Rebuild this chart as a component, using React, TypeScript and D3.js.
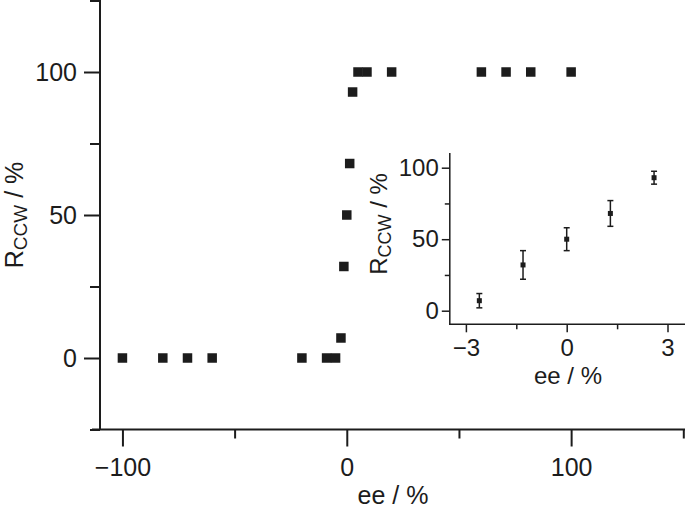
import React, { useRef, useEffect } from 'react';
import * as d3 from 'd3';

// main panel: ee (%) vs R_CCW (%)
const eeMain = [-100, -82, -71, -60, -20, -9, -5, -2.6, -1.3, 0, 1.3, 2.6, 5, 9, 20, 60, 71, 82, 100];
const rMain = [0, 0, 0, 0, 0, 0, 0, 7, 32, 50, 68, 93, 100, 100, 100, 100, 100, 100, 100];

// inset: close-up around racemic point, with error bars
const eeInset = [-2.6, -1.3, 0, 1.3, 2.6];
const rInset = [7, 32, 50, 68, 93];
const errInset = [5, 10, 8, 9, 4.5];

const mainXMajor = [-100, 0, 100];
const mainXMinor = [-50, 50, 150];
const mainYMajor = [0, 50, 100];
const mainYMinor = [-25, 25, 75, 125];
const insetXMajor = [-3, 0, 3];
const insetXMinor = [-1.5, 1.5];
const insetYMajor = [0, 50, 100];
const insetYMinor = [25, 75];

const FONT = '"Liberation Sans", Arial, Helvetica, sans-serif';
const INK = '#1c1c1c';
const fmt = (d: d3.NumberValue) => {
  const v = +d;
  return v < 0 ? `\u2212${Math.abs(v)}` : `${v}`;
};

export default function App() {
  const ref = useRef<SVGSVGElement>(null);

  const x = d3.scaleLinear().domain([-110, 150]).range([100, 683.3]);
  const y = d3.scaleLinear().domain([-25, 125]).range([429.5, 0.5]);
  const xi = d3.scaleLinear().domain([-3.5, 3.5]).range([449.1, 684.3]);
  const yi = d3.scaleLinear().domain([-10, 110]).range([325, 153.4]);

  useEffect(() => {
    if (!ref.current) return;
    const svg = d3.select(ref.current);

    const style = (g: d3.Selection<SVGGElement, unknown, null, undefined>, fs: number, sw: number) => {
      g.select('.domain').remove();
      g.selectAll('line').attr('stroke', INK).attr('stroke-width', sw);
      g.selectAll('text').attr('fill', INK).attr('font-size', fs).attr('font-family', FONT);
    };

    svg.select<SVGGElement>('.mx').call(d3.axisBottom(x).tickValues(mainXMajor).tickSize(17).tickPadding(12).tickFormat(fmt)).call(g => style(g, 25, 2));
    svg.select<SVGGElement>('.mxm').call(d3.axisBottom(x).tickValues(mainXMinor).tickSize(9).tickFormat(() => '')).call(g => style(g, 25, 2));
    svg.select<SVGGElement>('.my').call(d3.axisLeft(y).tickValues(mainYMajor).tickSize(16).tickPadding(7).tickFormat(fmt)).call(g => style(g, 25, 2));
    svg.select<SVGGElement>('.mym').call(d3.axisLeft(y).tickValues(mainYMinor).tickSize(10).tickFormat(() => '')).call(g => style(g, 25, 2));

    svg.select<SVGGElement>('.ix').call(d3.axisBottom(xi).tickValues(insetXMajor).tickSize(8).tickPadding(7).tickFormat(fmt)).call(g => style(g, 24, 1.5));
    svg.select<SVGGElement>('.ixm').call(d3.axisBottom(xi).tickValues(insetXMinor).tickSize(5).tickFormat(() => '')).call(g => style(g, 24, 1.5));
    svg.select<SVGGElement>('.iy').call(d3.axisLeft(yi).tickValues(insetYMajor).tickSize(8).tickPadding(3).tickFormat(fmt)).call(g => style(g, 24, 1.5));
    svg.select<SVGGElement>('.iym').call(d3.axisLeft(yi).tickValues(insetYMinor).tickSize(5).tickFormat(() => '')).call(g => style(g, 24, 1.5));
  }, []);

  const ms = 9.5;
  const mi = 5;

  return (
    <svg ref={ref} width={685} height={511} style={{ position: 'absolute', left: 0, top: 0, background: '#fff' }}>
      {/* main axes */}
      <line x1={100} x2={100} y1={0} y2={429.5} stroke={INK} strokeWidth={2} />
      <line x1={92} x2={685} y1={429.5} y2={429.5} stroke={INK} strokeWidth={2} />
      <g className="mx" transform="translate(0,429.5)" />
      <g className="mxm" transform="translate(0,429.5)" />
      <g className="my" transform="translate(100,0)" />
      <g className="mym" transform="translate(100,0)" />

      {eeMain.map((e, i) => (
        <rect key={i} x={x(e) - ms / 2} y={y(rMain[i]) - ms / 2} width={ms} height={ms} fill={INK} />
      ))}

      <text x={393} y={504} textAnchor="middle" fontSize={25} fontFamily={FONT} fill={INK}>ee / %</text>
      <text transform="translate(23,215) rotate(-90)" textAnchor="middle" fontSize={25} fontFamily={FONT} fill={INK}>
        R<tspan fontSize={19} dy={4}>CCW</tspan><tspan dy={-4}> / %</tspan>
      </text>

      {/* inset */}
      <line x1={449.8} x2={449.8} y1={153} y2={325} stroke={INK} strokeWidth={1.5} />
      <line x1={449} x2={685} y1={324.3} y2={324.3} stroke={INK} strokeWidth={1.5} />
      <g className="ix" transform="translate(0,324.3)" />
      <g className="ixm" transform="translate(0,324.3)" />
      <g className="iy" transform="translate(449.8,0)" />
      <g className="iym" transform="translate(449.8,0)" />

      {eeInset.map((e, i) => {
        const cx = xi(e);
        const y0 = yi(rInset[i] - errInset[i]);
        const y1 = yi(rInset[i] + errInset[i]);
        return (
          <g key={i} stroke={INK} strokeWidth={1.5}>
            <line x1={cx} x2={cx} y1={y0} y2={y1} />
            <line x1={cx - 3} x2={cx + 3} y1={y0} y2={y0} />
            <line x1={cx - 3} x2={cx + 3} y1={y1} y2={y1} />
            <rect x={cx - mi / 2} y={yi(rInset[i]) - mi / 2} width={mi} height={mi} fill={INK} stroke="none" />
          </g>
        );
      })}

      <text x={568} y={384} textAnchor="middle" fontSize={24} fontFamily={FONT} fill={INK}>ee / %</text>
      <text transform="translate(387,224) rotate(-90)" textAnchor="middle" fontSize={24} fontFamily={FONT} fill={INK}>
        R<tspan fontSize={18} dy={4}>CCW</tspan><tspan dy={-4}> / %</tspan>
      </text>
    </svg>
  );
}
